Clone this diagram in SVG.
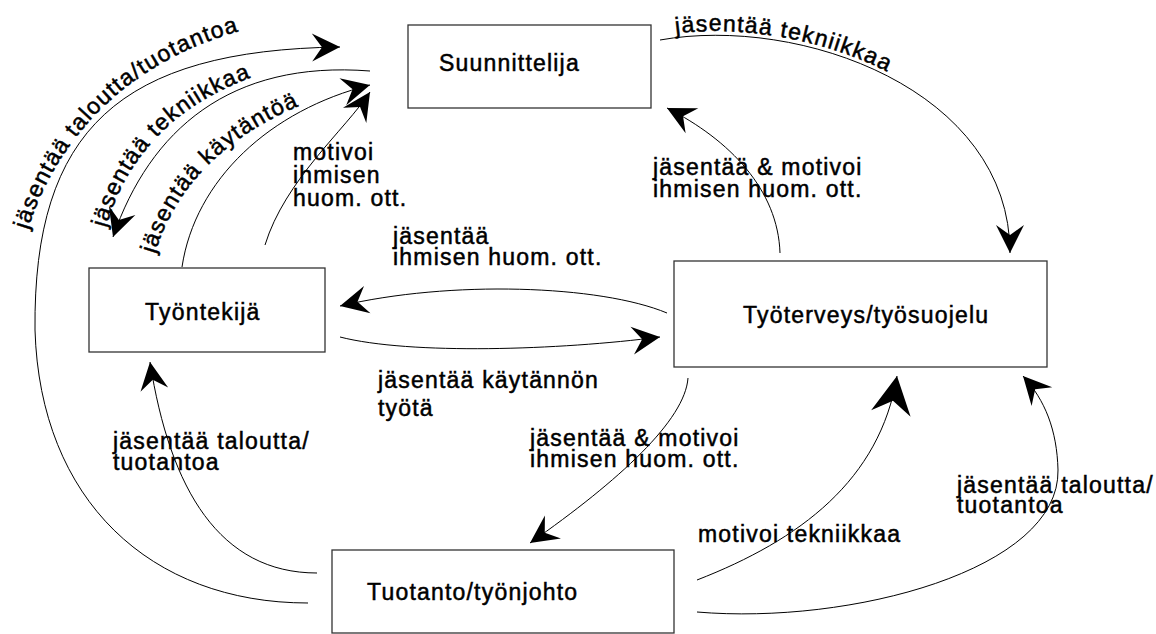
<svg xmlns="http://www.w3.org/2000/svg" width="1156" height="634" viewBox="0 0 1156 634">
<style>
text{font-family:"Liberation Sans",Arial,sans-serif;font-size:23px;letter-spacing:1.2px;fill:#000;stroke:#000;stroke-width:0.5}
.box{fill:#fff;stroke:#333;stroke-width:1.3}
.c{fill:none;stroke:#000;stroke-width:1}
</style>
<defs>
<marker id="a" markerUnits="userSpaceOnUse" markerWidth="32" markerHeight="32" viewBox="-30 -16 32 32" refX="0" refY="0" orient="auto">
<path d="M0,0 L-28,-14 L-18,0 L-28,14 Z" fill="#000"/>
</marker>
<marker id="b" markerUnits="userSpaceOnUse" markerWidth="42" markerHeight="44" viewBox="-40 -22 42 44" refX="0" refY="0" orient="auto">
<path d="M0,0 L-38,-20 L-25,0 L-38,20 Z" fill="#000"/>
</marker>
<path id="tpA" d="M28,230 C53,148 120,60 252,28"/>
<path id="tpB" d="M106,228 C128,150 185,95 275,70"/>
<path id="tpC" d="M155,254 C176,182 236,124 332,94"/>
<path id="tpD" d="M660,36 C800,11 1010,86 1010,249"/>
</defs>
<g id="connectors">
<path class="c" d="M308,603 C150,603 40,500 35,330 C33,130 120,50 340,47" marker-end="url(#a)"/>
<path class="c" d="M317,573 C220,573 170,490 150,362" marker-end="url(#a)"/>
<path class="c" d="M370,71 C230,60 150,130 113,237" marker-end="url(#a)"/>
<path class="c" d="M182,267 C195,180 270,110 370,85" marker-end="url(#a)"/>
<path class="c" d="M265,245 C285,180 345,130 370,92" marker-end="url(#a)"/>
<path class="c" d="M660,40 C800,15 1010,90 1010,253" marker-end="url(#a)"/>
<path class="c" d="M780,253 C778,190 730,140 667,108" marker-end="url(#a)"/>
<path class="c" d="M667,313 C600,285 450,280 340,306" marker-end="url(#a)"/>
<path class="c" d="M340,337 C410,355 560,350 660,337" marker-end="url(#a)"/>
<path class="c" d="M688,378 C685,420 620,480 530,543" marker-end="url(#a)"/>
<path class="c" d="M697,580 C800,540 880,480 897,376" marker-end="url(#b)"/>
<path class="c" d="M697,612 C850,625 1060,570 1058,470 C1057,430 1045,400 1023,376" marker-end="url(#a)"/>
</g>
<g id="labels">
<text><textPath href="#tpA">jäsentää taloutta/tuotantoa</textPath></text>
<text><textPath href="#tpB">jäsentää tekniikkaa</textPath></text>
<text><textPath href="#tpC">jäsentää käytäntöä</textPath></text>
<text><textPath href="#tpD" startOffset="16">jäsentää tekniikkaa</textPath></text>
<text x="293" y="160">motivoi</text>
<text x="293" y="183">ihmisen</text>
<text x="293" y="206">huom. ott.</text>
<text x="653" y="175">jäsentää &amp; motivoi</text>
<text x="653" y="197">ihmisen huom. ott.</text>
<text x="393" y="244">jäsentää</text>
<text x="393" y="265">ihmisen huom. ott.</text>
<text x="378" y="388">jäsentää käytännön</text>
<text x="378" y="416">työtä</text>
<text x="113" y="449">jäsentää taloutta/</text>
<text x="113" y="470">tuotantoa</text>
<text x="530" y="446">jäsentää &amp; motivoi</text>
<text x="530" y="467">ihmisen huom. ott.</text>
<text x="698" y="542">motivoi tekniikkaa</text>
<text x="957" y="493">jäsentää taloutta/</text>
<text x="957" y="513">tuotantoa</text>
</g>
<g id="suunnittelija">
<rect class="box" x="408" y="25" width="243" height="83"/>
<text x="439" y="71">Suunnittelija</text>
</g>
<g id="tyontekija">
<rect class="box" x="89" y="268" width="236" height="84"/>
<text x="145" y="320">Työntekijä</text>
</g>
<g id="tyoterveys">
<rect class="box" x="674" y="261" width="373" height="106"/>
<text x="743" y="323">Työterveys/työsuojelu</text>
</g>
<g id="tuotanto">
<rect class="box" x="332" y="550" width="342" height="83"/>
<text x="367" y="600">Tuotanto/työnjohto</text>
</g>
</svg>
